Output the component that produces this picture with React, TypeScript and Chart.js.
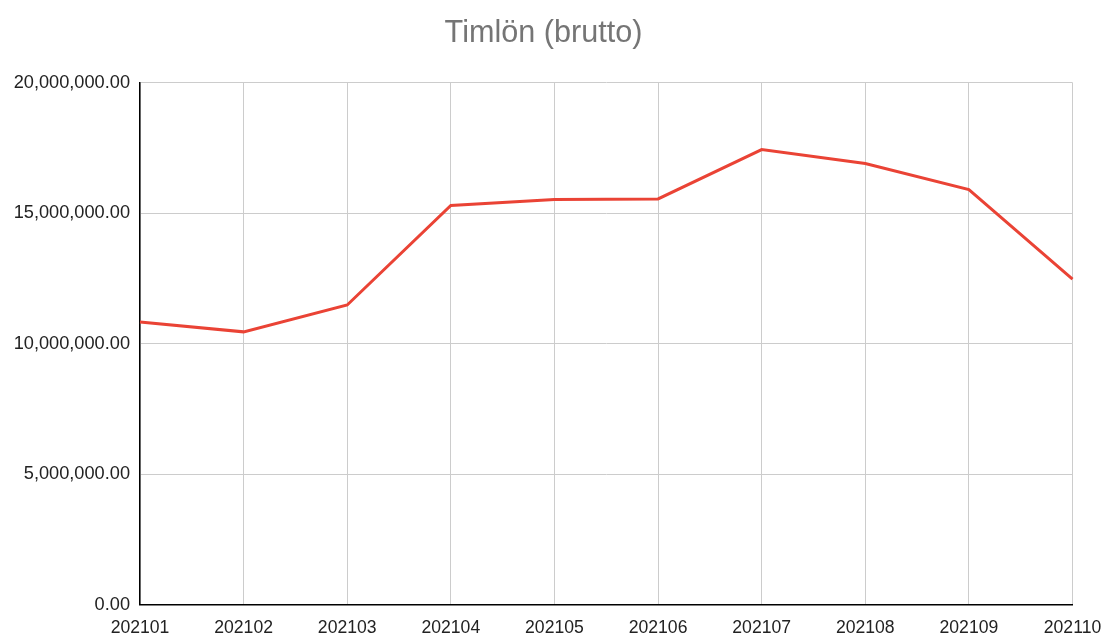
import React, { useEffect, useRef } from "react";
import { Chart, registerables } from "chart.js";

Chart.register(...registerables);

const categories = ["202101", "202102", "202103", "202104", "202105", "202106", "202107", "202108", "202109", "202110"];
const seriesValues = [10830000, 10450000, 11480000, 15290000, 15520000, 15540000, 17430000, 16900000, 15900000, 12470000];
const yTicks = [0, 5000000, 10000000, 15000000, 20000000];
const chartTitle = "Timlön (brutto)";

const FONT = "'Liberation Sans', Arial, sans-serif";

export default function App() {
  const ref = useRef<HTMLCanvasElement | null>(null);

  useEffect(() => {
    document.body.style.margin = "0";
    const canvas = ref.current;
    if (!canvas) return;
    const chart = new Chart(canvas, {
      type: "line",
      data: {
        labels: categories,
        datasets: [
          {
            label: chartTitle,
            data: seriesValues,
            borderColor: "#ea4335",
            backgroundColor: "#ea4335",
            borderWidth: 3,
            pointRadius: 0,
            pointHoverRadius: 0,
            tension: 0,
            fill: false,
          },
        ],
      },
      options: {
        responsive: false,
        animation: false,
        devicePixelRatio: 1,
        layout: { padding: { left: 0, right: 20, top: 0, bottom: 0 } },
        plugins: {
          legend: { display: false },
          tooltip: { enabled: false },
          title: {
            display: true,
            text: chartTitle,
            color: "#757575",
            font: { family: FONT, size: 30.6, weight: "normal" },
            padding: { top: 15, bottom: 30.8 },
          },
        },
        scales: {
          x: {
            type: "category",
            offset: false,
            grid: { color: "#cccccc", lineWidth: 1, drawTicks: false, offset: false },
            border: { color: "#000000", width: 1.5 },
            ticks: {
              color: "#222222",
              font: { family: FONT, size: 17.6 },
              padding: 13,
              maxRotation: 0,
              minRotation: 0,
              autoSkip: false,
            },
            afterFit: (scale: any) => {
              scale.height = 30.3;
              scale.paddingLeft = 0;
              scale.paddingRight = 34.5;
            },
          },
          y: {
            min: 0,
            max: 20000000,
            afterBuildTicks: (scale: any) => {
              scale.ticks = yTicks.map((v) => ({ value: v }));
            },
            grid: { color: "#cccccc", lineWidth: 1, drawTicks: false },
            border: { color: "#000000", width: 1.5 },
            ticks: {
              color: "#222222",
              font: { family: FONT, size: 18.2 },
              padding: 10,
              callback: (v: any) =>
                Number(v).toLocaleString("en-US", { minimumFractionDigits: 2, maximumFractionDigits: 2 }),
            },
            afterFit: (scale: any) => {
              scale.width = 140;
            },
          },
        },
      },
    });
    return () => chart.destroy();
  }, []);

  return (
    <div style={{ position: "absolute", left: 0, top: 0, width: 1107, height: 635, background: "#fff" }}>
      <canvas ref={ref} width={1107} height={635} style={{ display: "block" }} />
    </div>
  );
}
